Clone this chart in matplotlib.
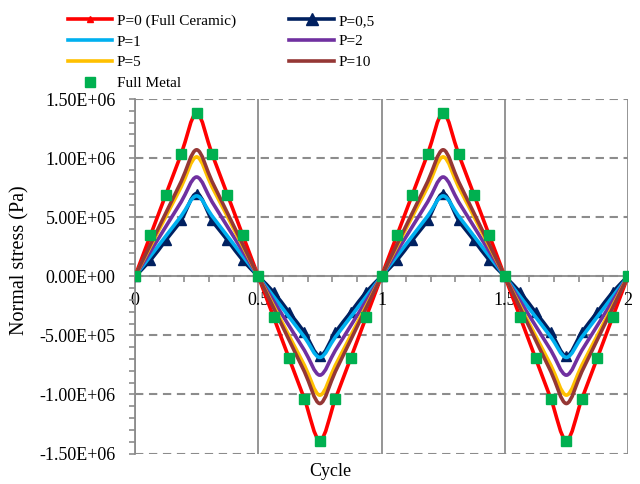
import matplotlib
matplotlib.use("Agg")
import matplotlib.pyplot as plt
from matplotlib.path import Path
from matplotlib.patches import PathPatch
from matplotlib.lines import Line2D
from matplotlib.ticker import MultipleLocator

plt.rcParams['font.family'] = ['Liberation Serif', 'DejaVu Serif']

# ---------------- data ----------------
cycle = [0.0, 0.0625, 0.125, 0.1875, 0.25, 0.3125, 0.375, 0.4375,
         0.5, 0.5625, 0.625, 0.6875, 0.75, 0.8125, 0.875, 0.9375,
         1.0, 1.0625, 1.125, 1.1875, 1.25, 1.3125, 1.375, 1.4375,
         1.5, 1.5625, 1.625, 1.6875, 1.75, 1.8125, 1.875, 1.9375, 2.0]

p0 = [0, 3.45e5, 6.90e5, 1.035e6, 1.38e6, 1.035e6, 6.90e5, 3.45e5,
      0, -3.47e5, -6.94e5, -1.04e6, -1.39e6, -1.04e6, -6.94e5, -3.47e5,
      0, 3.45e5, 6.90e5, 1.035e6, 1.38e6, 1.035e6, 6.90e5, 3.45e5,
      0, -3.47e5, -6.94e5, -1.04e6, -1.39e6, -1.04e6, -6.94e5, -3.47e5, 0]

p05 = [0, 1.35e5, 3.05e5, 4.75e5, 7.00e5, 4.75e5, 3.05e5, 1.35e5,
       0, -1.35e5, -3.05e5, -4.75e5, -6.75e5, -4.75e5, -3.05e5, -1.35e5,
       0, 1.35e5, 3.05e5, 4.75e5, 7.00e5, 4.75e5, 3.05e5, 1.35e5,
       0, -1.35e5, -3.05e5, -4.75e5, -6.75e5, -4.75e5, -3.05e5, -1.35e5, 0]

p1 = [0, 1.70e5, 3.40e5, 5.10e5, 6.80e5, 5.10e5, 3.40e5, 1.70e5,
      0, -1.72e5, -3.44e5, -5.15e5, -6.87e5, -5.15e5, -3.44e5, -1.72e5,
      0, 1.70e5, 3.40e5, 5.10e5, 6.80e5, 5.10e5, 3.40e5, 1.70e5,
      0, -1.72e5, -3.44e5, -5.15e5, -6.87e5, -5.15e5, -3.44e5, -1.72e5, 0]

p2 = [0, 2.10e5, 4.20e5, 6.30e5, 8.40e5, 6.30e5, 4.20e5, 2.10e5,
      0, -2.10e5, -4.19e5, -6.28e5, -8.37e5, -6.28e5, -4.19e5, -2.10e5,
      0, 2.10e5, 4.20e5, 6.30e5, 8.40e5, 6.30e5, 4.20e5, 2.10e5,
      0, -2.10e5, -4.19e5, -6.28e5, -8.37e5, -6.28e5, -4.19e5, -2.10e5, 0]

p5 = [0, 2.52e5, 5.05e5, 7.57e5, 1.01e6, 7.57e5, 5.05e5, 2.52e5,
      0, -2.52e5, -5.03e5, -7.55e5, -1.006e6, -7.55e5, -5.03e5, -2.52e5,
      0, 2.52e5, 5.05e5, 7.57e5, 1.01e6, 7.57e5, 5.05e5, 2.52e5,
      0, -2.52e5, -5.03e5, -7.55e5, -1.006e6, -7.55e5, -5.03e5, -2.52e5, 0]

p10 = [0, 2.68e5, 5.35e5, 8.02e5, 1.07e6, 8.02e5, 5.35e5, 2.68e5,
       0, -2.69e5, -5.39e5, -8.08e5, -1.077e6, -8.08e5, -5.39e5, -2.69e5,
       0, 2.68e5, 5.35e5, 8.02e5, 1.07e6, 8.02e5, 5.35e5, 2.68e5,
       0, -2.69e5, -5.39e5, -8.08e5, -1.077e6, -8.08e5, -5.39e5, -2.69e5, 0]

full_metal = [0, 3.45e5, 6.90e5, 1.035e6, 1.38e6, 1.035e6, 6.90e5, 3.45e5,
              0, -3.47e5, -6.94e5, -1.04e6, -1.39e6, -1.04e6, -6.94e5, -3.47e5,
              0, 3.45e5, 6.90e5, 1.035e6, 1.38e6, 1.035e6, 6.90e5, 3.45e5,
              0, -3.47e5, -6.94e5, -1.04e6, -1.39e6, -1.04e6, -6.94e5, -3.47e5, 0]

labels = ["P=0 (Full Ceramic)", "P=0,5", "P=1", "P=2", "P=5", "P=10"]
colors = ["#FF0000", "#002060", "#00B0F0", "#7030A0", "#FFC000", "#953735"]
metal_label = "Full Metal"
metal_color = "#00B050"

xticks = [0, 0.5, 1, 1.5, 2]
xticklabels = ["0", "0.5", "1", "1.5", "2"]
yticks = [-1.5e6, -1.0e6, -5e5, 0, 5e5, 1.0e6, 1.5e6]
yticklabels = ["-1.50E+06", "-1.00E+06", "-5.00E+05", "0.00E+00",
               "5.00E+05", "1.00E+06", "1.50E+06"]
grid_color = "#8C8C8C"


def smooth_path(xs, ys):
    """Excel-like smoothed line: cubic Bezier through the data points."""
    pts = list(zip(xs, ys))
    n = len(pts)
    verts = [pts[0]]
    codes = [Path.MOVETO]
    for i in range(n - 1):
        a = pts[i - 1] if i > 0 else pts[i]
        b = pts[i]
        c = pts[i + 1]
        d = pts[i + 2] if i + 2 < n else pts[i + 1]
        c1 = (b[0] + (c[0] - a[0]) / 6.0, b[1] + (c[1] - a[1]) / 6.0)
        c2 = (c[0] - (d[0] - b[0]) / 6.0, c[1] - (d[1] - b[1]) / 6.0)
        verts += [c1, c2, c]
        codes += [Path.CURVE4] * 3
    return Path(verts, codes)


fig = plt.figure(figsize=(6.4, 4.84), dpi=100)
ax = fig.add_axes([135 / 640, 1 - 453.5 / 484, (628 - 135) / 640, (453.5 - 99) / 484])

series = [p0, p05, p1, p2, p5, p10]
handles = []
for k, (vals, lab, col) in enumerate(zip(series, labels, colors)):
    patch = PathPatch(smooth_path(cycle, vals), fill=False, edgecolor=col,
                      lw=2.6, capstyle='round', joinstyle='round', zorder=3 + k)
    ax.add_patch(patch)
    if k == 0:
        ax.plot(cycle, vals, linestyle='none', marker='^', markersize=4,
                color=col, zorder=3 + k)
        h = Line2D([], [], color=col, lw=2.6, marker='^', markersize=5)
    elif k == 1:
        ax.plot(cycle, vals, linestyle='none', marker='^', markersize=7.5,
                color=col, zorder=3 + k)
        h = Line2D([], [], color=col, lw=2.6, marker='^', markersize=9)
    else:
        h = Line2D([], [], color=col, lw=2.6)
    handles.append(h)

ax.plot(cycle, full_metal, linestyle='none', marker='s', markersize=6.5,
        color=metal_color, zorder=12)
hm = Line2D([], [], linestyle='none', marker='s', markersize=6.5, color=metal_color)

ax.set_xlim(0, 2)
ax.set_ylim(-1.5e6, 1.5e6)

for s in ['top', 'right']:
    ax.spines[s].set_visible(False)
ax.spines['bottom'].set_position(('data', 0))
for s in ['left', 'bottom']:
    ax.spines[s].set_color(grid_color)
    ax.spines[s].set_linewidth(1.3)
    ax.spines[s].set_zorder(1)

ax.set_xticks(xticks)
ax.set_xticklabels(xticklabels)
ax.xaxis.set_minor_locator(MultipleLocator(0.1))
ax.set_yticks(yticks)
ax.set_yticklabels(yticklabels)
ax.yaxis.set_minor_locator(MultipleLocator(1e5))

ax.tick_params(axis='both', which='both', color=grid_color, width=1.2,
               direction='out', labelsize=13)
ax.tick_params(axis='x', which='major', length=4, pad=7)
ax.tick_params(axis='x', which='minor', length=4)
ax.tick_params(axis='y', which='major', length=4, pad=10)
ax.tick_params(axis='y', which='minor', length=4)

ax.xaxis.grid(True, which='major', color=grid_color, linestyle='-', lw=1.3, zorder=0)
ax.yaxis.grid(True, which='major', color=grid_color, linestyle=(0, (4, 2.7)), lw=1.5, zorder=0)
ax.set_axisbelow(True)

for t in ax.get_xticklabels():
    t.set_zorder(20)

fig.text(330 / 640, 1 - 471 / 484, "Cycle", ha='center', va='center', fontsize=13)
fig.text(20 / 640, 1 - 260 / 484, "Normal stress (Pa)", ha='center', va='center',
         rotation=90, fontsize=14.5)

order = [handles[0], handles[2], handles[4], hm, handles[1], handles[3], handles[5]]
order_labels = [labels[0], labels[2], labels[4], metal_label, labels[1], labels[3], labels[5]]
fig.legend(order, order_labels, ncol=2, loc='upper left',
           bbox_to_anchor=(68 / 640, 1 - 14 / 484), frameon=False, fontsize=11,
           handlelength=2.9, handletextpad=0.3, columnspacing=3.5,
           labelspacing=0.46, borderpad=0, borderaxespad=0)

fig.savefig("out.png", dpi=100)
